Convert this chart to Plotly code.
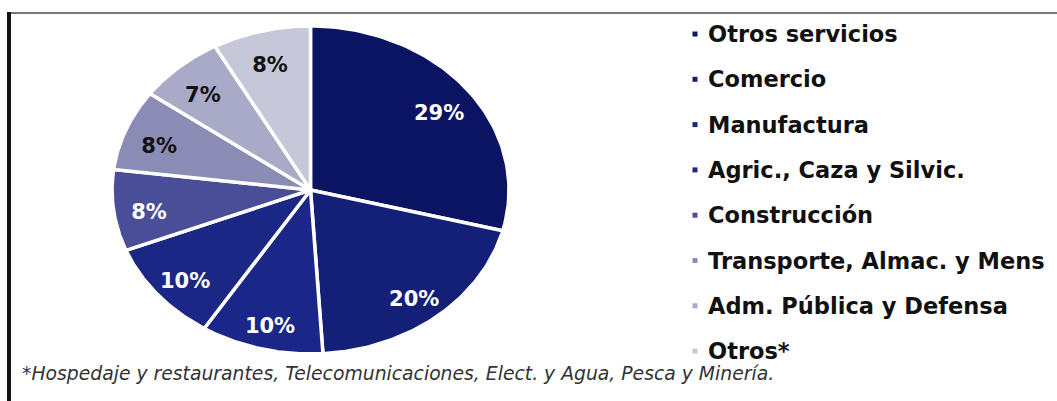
import numpy as np
import plotly.graph_objects as go

# Sector shares (%) listed clockwise from 12 o'clock
sectors = ["Otros servicios", "Comercio", "Manufactura", "Agric., Caza y Silvic.",
           "Construcción", "Transporte, Almac. y Mens", "Adm. Pública y Defensa", "Otros*"]
shares = [29, 20, 10, 10, 8, 8, 7, 8]
colors = ["#0b1363", "#141f78", "#1a2688", "#1b2784",
          "#4a4e98", "#8a8cb6", "#a8aac7", "#c6c7d8"]
label_colors = ["white", "white", "white", "white", "white", "#111111", "#111111", "#111111"]
footnote = "*Hospedaje y restaurantes, Telecomunicaciones, Elect. y Agua, Pesca y Minería."

FONT = "DejaVu Sans"

fig = go.Figure()

total = float(sum(shares))
start = 0.0
label_x, label_y = [], []
for name, val, col in zip(sectors, shares, colors):
    frac0 = start / total
    frac1 = (start + val) / total
    t = np.linspace(frac0, frac1, 80) * 2 * np.pi
    xs = np.concatenate([[0], np.sin(t), [0]])
    ys = np.concatenate([[0], np.cos(t), [0]])
    fig.add_trace(go.Scatter(
        x=xs, y=ys, mode="lines", fill="toself", fillcolor=col,
        line=dict(color="white", width=3.5), hoverinfo="skip",
        name=name, showlegend=False, xaxis="x", yaxis="y"))
    mid = (frac0 + frac1) / 2 * 2 * np.pi
    label_x.append(0.82 * np.sin(mid))
    label_y.append(0.82 * np.cos(mid) - 0.045)
    start += val

# percentage labels inside the slices
fig.add_trace(go.Scatter(
    x=label_x, y=label_y, mode="text",
    text=[f"{v}%" for v in shares],
    textfont=dict(family=FONT, size=21, color=label_colors, weight="bold"),
    hoverinfo="skip", showlegend=False, xaxis="x", yaxis="y"))

# legend column: small square bullets and category names
fig.add_trace(go.Scatter(
    x=[0] * len(sectors), y=list(range(len(sectors))),
    mode="markers",
    marker=dict(symbol="square", size=5, color=colors),
    cliponaxis=False, hoverinfo="skip", showlegend=False,
    xaxis="x2", yaxis="y2"))
for i, name in enumerate(sectors):
    fig.add_annotation(
        text=name, xref="x2", yref="y2", x=0.027, y=i,
        xanchor="left", yanchor="middle", showarrow=False,
        font=dict(family=FONT, size=22.5, color="#111111", weight="bold"))

fig.add_annotation(
    text=footnote, xref="paper", yref="paper", x=20 / 1057, y=1 - 373 / 401,
    xanchor="left", yanchor="middle", showarrow=False,
    font=dict(family=FONT, size=18.8, color="#333333", style="italic"))

# frame: grey rule along the top, dark bar down the left side
fig.add_shape(type="line", xref="paper", yref="paper", x0=7 / 1057, x1=1, y0=1 - 13 / 401, y1=1 - 13 / 401,
              line=dict(color="#777777", width=2))
fig.add_shape(type="line", xref="paper", yref="paper", x0=9 / 1057, x1=9 / 1057, y0=0, y1=1 - 12 / 401,
              line=dict(color="#111111", width=4))

fig.update_layout(
    width=1057, height=401,
    margin=dict(l=0, r=0, t=0, b=0),
    paper_bgcolor="white", plot_bgcolor="white",
    xaxis=dict(domain=[112 / 1057, 509 / 1057], range=[-1, 1], visible=False, fixedrange=True),
    yaxis=dict(domain=[1 - 354 / 401, 1 - 26 / 401], range=[-1, 1], visible=False, fixedrange=True),
    xaxis2=dict(domain=[0.6, 1.0], range=[-(695 - 634.2) / 422.8, 1 - (695 - 634.2) / 422.8],
                visible=False, fixedrange=True),
    yaxis2=dict(domain=[0, 1], range=[(401 - 34) / 45.3, -34 / 45.3], visible=False, fixedrange=True),
)

fig.write_html("out.html")
